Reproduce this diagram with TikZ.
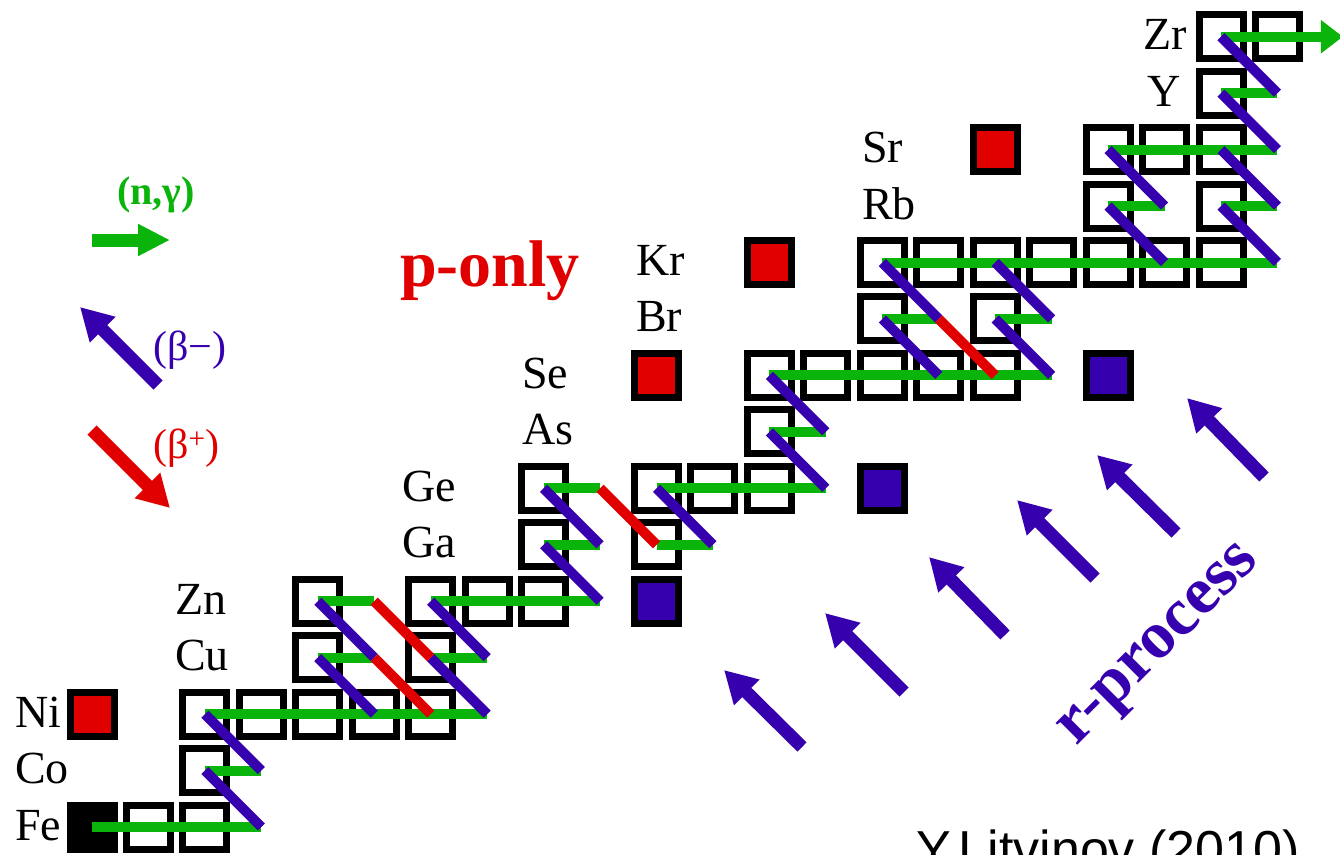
\documentclass[tikz,border=0pt]{standalone}
\usepackage{fontspec}
\setmainfont{Liberation Serif}
\newfontfamily\arialfont{Liberation Sans}
\usetikzlibrary{arrows.meta}
\definecolor{ngreen}{RGB}{10,180,10}
\definecolor{bblue}{RGB}{55,0,175}
\definecolor{pred}{RGB}{225,0,0}
\begin{document}
\begin{tikzpicture}[x=1pt,y=-1pt,
  iso/.style={draw=black, line width=7pt, minimum size=44pt, inner sep=0pt, fill=white},
  isored/.style={iso, fill=pred},
  isoblue/.style={iso, fill=bblue},
  isoblack/.style={iso, fill=black},
  gline/.style={draw=ngreen, line width=10pt},
  bline/.style={draw=bblue, line width=10pt},
  rline/.style={draw=pred, line width=10pt},
  elab/.style={anchor=base west, inner sep=0pt, font=\fontsize{46}{46}\selectfont},
  rarrow/.style={draw=bblue, line width=13pt, -{Triangle[length=32pt,width=34pt]}},
]
\useasboundingbox (0,0) rectangle (1340,854);
\begin{scope}[shift={(92,827)}, x=56.45pt, y=56.45pt]
  \foreach \c in {0,...,22} \foreach \r in {0,...,14} \coordinate (g-\c-\r) at (\c,\r);
  % open boxes
  \foreach \c/\r in {1/0,2/0, 2/1, 2/2,3/2,4/2,5/2,6/2, 4/3,6/3, 4/4,6/4,7/4,8/4,
      8/5,10/5, 8/6,10/6,11/6,12/6, 12/7, 12/8,13/8,14/8,15/8,16/8, 14/9,16/9,
      14/10,15/10,16/10,17/10,18/10,19/10,20/10, 18/11,20/11, 18/12,19/12,20/12,
      20/13, 20/14,21/14}
    \node[iso] (b-\c-\r) at (g-\c-\r) {};
  \node[isoblack] (b-0-0) at (g-0-0) {};
  \foreach \c/\r in {0/2,10/8,12/10,16/12} \node[isored] (b-\c-\r) at (g-\c-\r) {};
  \foreach \c/\r in {10/4,14/6,18/8} \node[isoblue] (b-\c-\r) at (g-\c-\r) {};
  % neutron captures
  \foreach \a/\b/\r in {0/3/0, 2/3/1, 2/7/2, 4/5/3, 6/7/3, 4/5/4, 6/9/4, 8/9/5, 10/11/5,
      8/9/6, 10/13/6, 12/13/7, 12/17/8, 14/15/9, 16/17/9, 14/21/10, 18/19/11, 20/21/11,
      18/21/12, 20/21/13}
    \draw[gline] (g-\a-\r) -- (g-\b-\r);
  \draw[gline, -{Triangle[length=22pt,width=32pt]}] (g-20-14) -- ([xshift=9pt]g-22-14);
  % beta- decays
  \foreach \c/\r in {3/0, 3/1, 5/2, 7/2, 5/3, 7/3, 9/4, 9/5, 11/5, 13/6, 13/7, 15/8, 17/8,
      15/9, 17/9, 19/10, 21/10, 19/11, 21/11, 21/12, 21/13}
    {\pgfmathtruncatemacro\cc{\c-1}\pgfmathtruncatemacro\rr{\r+1}
     \draw[bline] (g-\c-\r) -- (g-\cc-\rr);}
  % beta+ decays
  \foreach \c/\r in {5/3, 5/4, 9/6, 15/9}
    {\pgfmathtruncatemacro\cc{\c+1}\pgfmathtruncatemacro\rr{\r-1}
     \draw[rline] (g-\c-\r) -- (g-\cc-\rr);}
\end{scope}
% element labels
\foreach \t/\x/\r in {Fe/15/0, Co/15/1, Ni/15/2, Cu/175/3, Zn/175/4, Ga/402/5, Ge/402/6,
    As/522/7, Se/522/8, Br/636/9, Kr/636/10, Rb/862/11, Sr/862/12, Y/1147/13, Zr/1143/14}
  \node[elab] (l-\t) at (\x, {840-56.45*\r}) {\t};
% legend
\coordinate (ng-t) at (92,240); \coordinate (ng-h) at (170,240);
\draw[draw=ngreen, line width=13pt, -{Triangle[length=32pt,width=30pt]}] (ng-t) -- (ng-h);
\node[anchor=base west, inner sep=0pt, text=ngreen, font=\bfseries\fontsize{40}{40}\selectfont] (ng-l) at (117,204) {(n,γ)};
\coordinate (bm-t) at (158,385); \coordinate (bm-h) at (80,307);
\draw[rarrow] (bm-t) -- (bm-h);
\node[anchor=base west, inner sep=0pt, text=bblue, font=\fontsize{42}{42}\selectfont] (bm-l) at (153,360) {(β−)};
\coordinate (bp-t) at (92,430); \coordinate (bp-h) at (170,508);
\draw[draw=pred, line width=13pt, -{Triangle[length=32pt,width=34pt]}] (bp-t) -- (bp-h);
\node[anchor=base west, inner sep=0pt, text=pred, font=\fontsize{42}{42}\selectfont] (bp-l) at (153,458) {(β\textsuperscript{+})};
% p-only
\node[anchor=base west, inner sep=0pt, text=pred, font=\bfseries\fontsize{66}{66}\selectfont] (ponly) at (400,286) {p-only};
% r-process arrows
\foreach \i/\tx/\ty/\hx/\hy in {1/802/747/724/670, 2/904/692/825/613, 3/1005/635/929/557,
    4/1095/578/1017/500, 5/1176/533/1097/455, 6/1264/477/1187/398}
  {\coordinate (ra\i-t) at (\tx,\ty); \coordinate (ra\i-h) at (\hx,\hy);
   \draw[rarrow] (ra\i-t) -- (ra\i-h);}
\node[rotate=45, inner sep=0pt, text=bblue, font=\bfseries\fontsize{67}{67}\selectfont] (rproc) at (1162,648) {r-process};
% credit
\node[anchor=base west, inner sep=0pt, font=\arialfont\fontsize{52}{52}\selectfont] (credit) at (916,867) {Y.Litvinov (2010)};
\end{tikzpicture}
\end{document}
